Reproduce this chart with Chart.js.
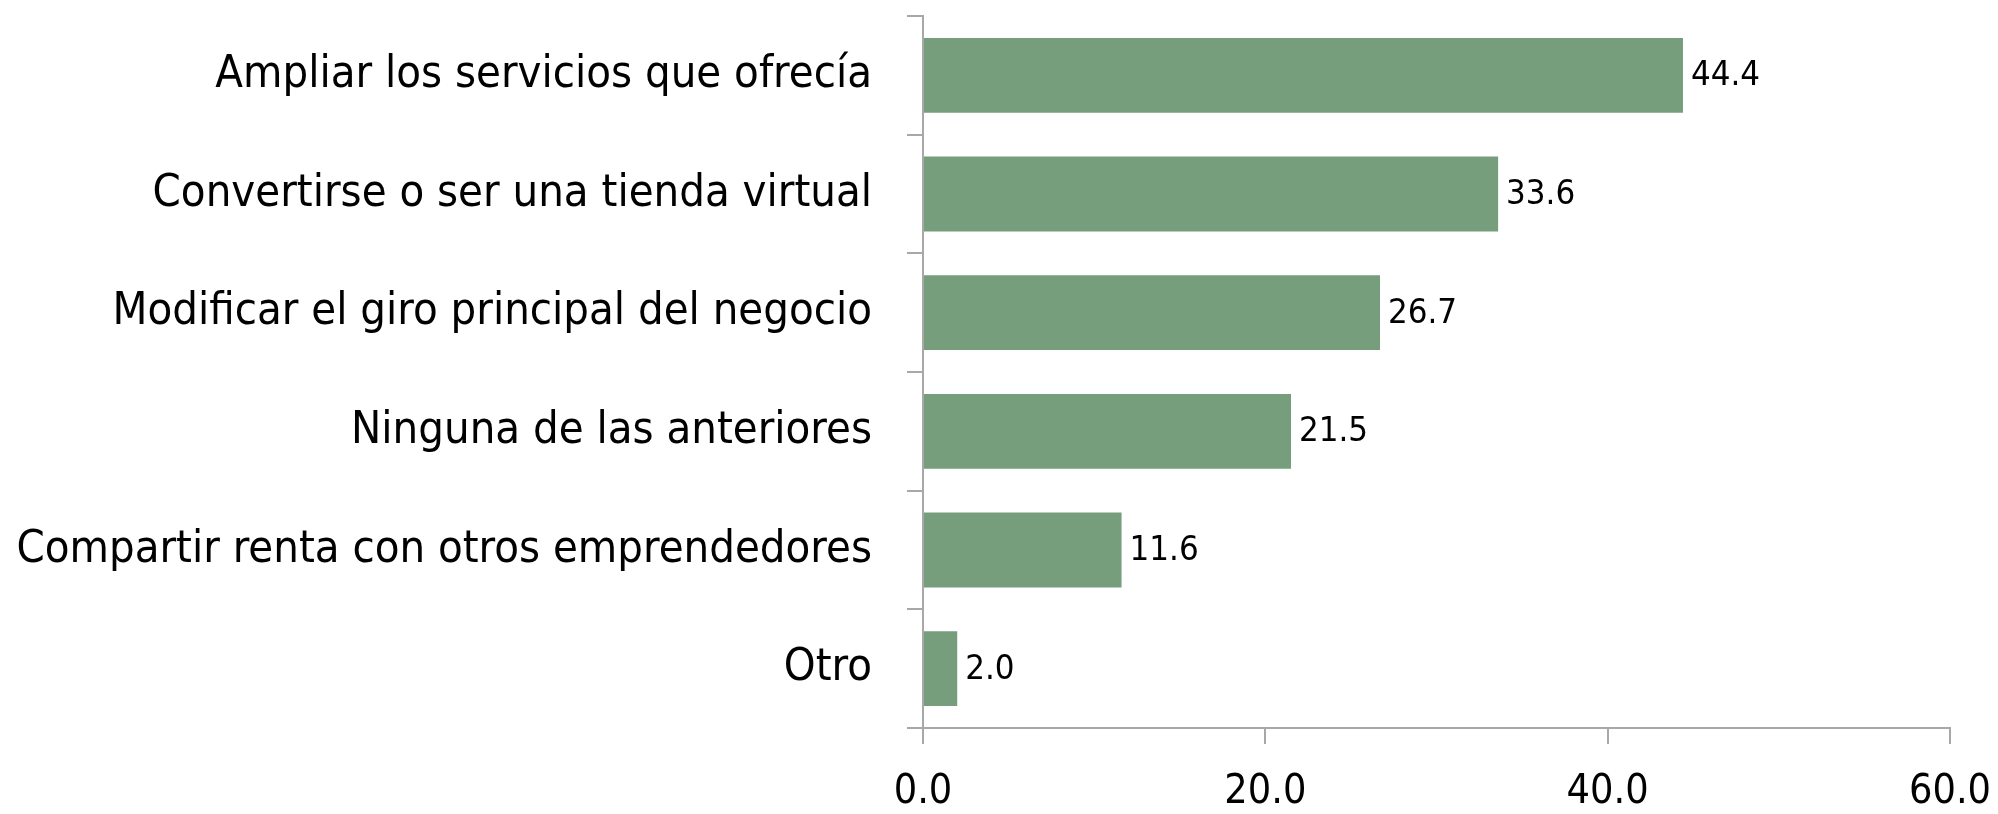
<!DOCTYPE html>
<html>
<head>
<meta charset="utf-8">
<script src="https://cdn.jsdelivr.net/npm/chart.js@4/dist/chart.umd.min.js"></script>
<style>
  html, body { margin: 0; padding: 0; background: #fff; }
</style>
</head>
<body>
<canvas id="chart" width="1998" height="814"></canvas>
<script>
const categories = [
  'Ampliar los servicios que ofrecía',
  'Convertirse o ser una tienda virtual',
  'Modificar el giro principal del negocio',
  'Ninguna de las anteriores',
  'Compartir renta con otros emprendedores',
  'Otro'
];
const values = [44.4, 33.6, 26.7, 21.5, 11.6, 2.0];
const xTicks = [0, 20, 40, 60];

const FONT = '"Liberation Sans Narrow", "DejaVu Sans Condensed", sans-serif';
const AXIS_GREY = '#a8a8a8';

// pick a font size so a sample string comes out at the width seen in the picture
const probe = document.createElement('canvas').getContext('2d');
function fitSize(text, maxSize, targetWidth) {
  probe.font = maxSize + 'px ' + FONT;
  const w = probe.measureText(text).width;
  return Math.min(maxSize, Math.round(maxSize * targetWidth / w * 10) / 10);
}
const catSize = fitSize('Compartir renta con otros emprendedores', 50, 855);
const tickSize = fitSize('60.0', 56, 82);
const valueSize = fitSize('44.4', 42, 69);

// value labels at the end of each bar
const barValues = {
  id: 'barValues',
  afterDatasetsDraw(chart) {
    const ctx = chart.ctx;
    const meta = chart.getDatasetMeta(0);
    ctx.save();
    ctx.font = valueSize + 'px ' + FONT;
    ctx.fillStyle = '#000';
    ctx.textAlign = 'left';
    ctx.textBaseline = 'middle';
    meta.data.forEach((bar, i) => {
      ctx.fillText(values[i].toFixed(1), bar.x + 8, bar.y + 1);
    });
    ctx.restore();
  }
};

new Chart(document.getElementById('chart'), {
  type: 'bar',
  data: {
    labels: categories,
    datasets: [{
      data: values,
      backgroundColor: '#769e7d',
      borderWidth: 0,
      categoryPercentage: 1,
      barPercentage: 0.63
    }]
  },
  options: {
    indexAxis: 'y',
    responsive: false,
    animation: false,
    layout: { padding: { top: 16, right: 48, left: 0, bottom: 0 } },
    plugins: {
      legend: { display: false },
      tooltip: { enabled: false }
    },
    scales: {
      y: {
        grid: { drawOnChartArea: false, tickLength: 16, color: AXIS_GREY, lineWidth: 2, offset: true },
        border: { color: AXIS_GREY, width: 2 },
        ticks: { color: '#000', padding: 35, font: { family: FONT, size: catSize } },
        afterFit(scale) {
          scale.width = 923;
          scale.paddingTop = 0;
          scale.paddingBottom = 0;
        }
      },
      x: {
        min: 0,
        max: 60,
        afterBuildTicks(scale) { scale.ticks = xTicks.map(v => ({ value: v })); },
        grid: { drawOnChartArea: false, tickLength: 16, color: AXIS_GREY, lineWidth: 2 },
        border: { color: AXIS_GREY, width: 2 },
        ticks: {
          color: '#000',
          padding: Math.round(48.5 - 0.6 * tickSize),
          maxRotation: 0,
          font: { family: FONT, size: tickSize },
          callback: v => Number(v).toFixed(1)
        },
        afterFit(scale) {
          scale.height = 86;
          scale.paddingLeft = 0;
          scale.paddingRight = 0;
        }
      }
    }
  },
  plugins: [barValues]
});
</script>
</body>
</html>
